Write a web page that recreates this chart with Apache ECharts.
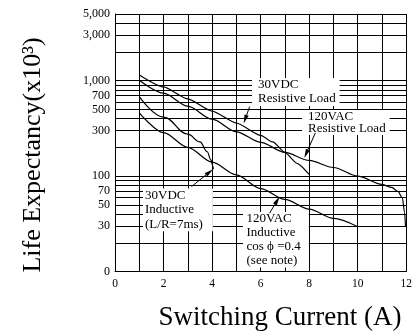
<!DOCTYPE html>
<html><head><meta charset="utf-8">
<script src="https://cdn.jsdelivr.net/npm/echarts@6/dist/echarts.min.js"></script>
<style>html,body{margin:0;padding:0;background:#fff}#c{width:415px;height:331px}</style>
</head><body><div id="c"></div>
<script>
// ---- data ----
const xTickValues = [0, 2, 4, 6, 8, 10, 12];
const yTickValues = [10, 30, 50, 70, 100, 300, 500, 700, 1000, 3000, 5000];
const yTickLabels = ['0', '30', '50', '70', '100', '300', '500', '700', '1,000', '3,000', '5,000'];
const yGridValues = [20, 30, 40, 50, 60, 70, 80, 90, 100, 200, 300, 400, 500, 600, 700, 800, 900, 1000, 2000, 3000, 4000];

const vdc30ResX = [1, 2, 3, 4, 5, 6, 6.5, 7, 7.5, 8];
const vdc30ResY = [1150, 860, 645, 480, 360, 267, 228, 177, 136, 104];
const vac120ResX = [1, 2, 3, 4, 5, 6, 7, 8, 9, 10, 11, 11.4, 11.66, 11.84, 11.93, 11.97];
const vac120ResY = [1010, 740, 540, 395, 291, 226, 177, 146, 123, 100, 82, 76, 69, 59, 42, 29.5];
const vdc30IndX = [1, 2, 3, 3.5, 3.8, 3.95, 4.03, 4.05];
const vdc30IndY = [680, 415, 275, 228, 180, 148, 128, 118];
const vac120IndX = [1, 2, 3, 4, 5, 6, 7, 8, 9, 10];
const vac120IndY = [460, 285, 200, 140, 103, 74, 57, 45, 36, 29.5];

const labelTexts = [
  '30VDC\nResistive Load',
  '120VAC\nResistive Load',
  '30VDC\nInductive\n(L/R=7ms)',
  '120VAC\nInductive\ncos \u03D5 =0.4\n(see note)'
];
const arrowTips = [[5.3, 355], [7.8, 155], [4.04, 118], [6.78, 61]];

// ---- chart ----
const FONT = '"Liberation Serif", "Times New Roman", serif';
const pairs = (xs, ys) => xs.map((x, i) => [x, ys[i]]);
const chart = echarts.init(document.getElementById('c'), null, {renderer: 'canvas'});

const gridLines = yGridValues.concat([10, 5000]).map(v => {
  const idx = yTickValues.indexOf(v);
  return {
    yAxis: v,
    label: idx >= 0 ? {show: true, formatter: yTickLabels[idx]} : {show: false}
  };
});

const lineSeries = (name, xs, ys, smooth) => ({
  name, type: 'line', data: pairs(xs, ys), showSymbol: false, symbol: 'none',
  smooth: smooth, smoothMonotone: 'x',
  lineStyle: {color: '#000', width: 1.2}, z: 5, silent: true
});

chart.setOption({
  animation: false,
  textStyle: {fontFamily: FONT},
  grid: {left: 115, right: 5, top: 14, bottom: 59.5},
  xAxis: {
    type: 'value', min: 0, max: 12, interval: 1,
    axisLine: {show: true, lineStyle: {color: '#000', width: 1}},
    axisTick: {show: false},
    splitLine: {show: true, lineStyle: {color: '#000', width: 1}},
    axisLabel: {
      color: '#000', fontSize: 11.5, fontFamily: FONT, margin: 6,
      formatter: v => xTickValues.indexOf(v) >= 0 ? String(v) : ''
    }
  },
  yAxis: {
    type: 'log', logBase: 10, min: 10, max: 5000,
    axisLine: {show: true, lineStyle: {color: '#000', width: 1}},
    axisTick: {show: false},
    axisLabel: {show: false},
    splitLine: {show: false}
  },
  series: [
    {
      type: 'line', data: [], silent: true,
      markLine: {
        silent: true, symbol: ['none', 'none'], animation: false,
        lineStyle: {color: '#000', width: 1, type: 'solid'},
        label: {position: 'start', color: '#000', fontSize: 12, fontFamily: FONT, distance: 5},
        emphasis: {disabled: true},
        data: gridLines
      }
    },
    lineSeries('30VDC Resistive Load', vdc30ResX, vdc30ResY, 0.2),
    lineSeries('120VAC Resistive Load', vac120ResX, vac120ResY, 0.3),
    lineSeries('30VDC Inductive', vdc30IndX, vdc30IndY, 0.4),
    lineSeries('120VAC Inductive', vac120IndX, vac120IndY, 0.3)
  ]
});

// annotations
const boxes = [
  {x: 252, y: 78, lh: 14, pad: [0, 4, 0, 6]},
  {x: 302, y: 110, lh: 12.5, pad: [0, 4, 0, 6]},
  {x: 143, y: 188.6, lh: 14.2, pad: [0, 10, 0, 2]},
  {x: 243, y: 212, lh: 13.9, pad: [0, 8, 0, 3.5]}
];
const tailOffsets = [[6, -17], [11, -25], [-21.6, 17.4], [-10, 16.6]];
const graphics = [];
labelTexts.forEach((t, i) => {
  const b = boxes[i];
  graphics.push({
    type: 'text', x: b.x, y: b.y, z: 20,
    style: {
      text: t, font: '13px ' + FONT, fill: '#000', lineHeight: b.lh,
      backgroundColor: '#fff', padding: b.pad,
      textAlign: 'left', textVerticalAlign: 'top'
    }
  });
});
arrowTips.forEach((tp, i) => {
  const tip = chart.convertToPixel({gridIndex: 0}, tp);
  const off = tailOffsets[i];
  const tail = [tip[0] + off[0], tip[1] + off[1]];
  const len = Math.hypot(off[0], off[1]);
  const ux = -off[0] / len, uy = -off[1] / len;
  const hl = 9, hw = 2.2;
  const base = [tip[0] - ux * hl, tip[1] - uy * hl];
  graphics.push({
    type: 'line', z: 21,
    shape: {x1: tail[0], y1: tail[1], x2: base[0], y2: base[1]},
    style: {stroke: '#000', lineWidth: 1}
  });
  graphics.push({
    type: 'polygon', z: 21,
    shape: {points: [tip, [base[0] - uy * hw, base[1] + ux * hw], [base[0] + uy * hw, base[1] - ux * hw]]},
    style: {fill: '#000'}
  });
});
graphics.push({
  type: 'text', x: 33, y: 155, rotation: Math.PI / 2, z: 20,
  style: {text: 'Life Expectancy(x10\u00B3)', font: '26px ' + FONT, fill: '#000',
    textAlign: 'center', textVerticalAlign: 'middle'}
});
graphics.push({
  type: 'text', x: 280, y: 318, z: 20,
  style: {text: 'Switching Current (A)', font: '27px ' + FONT, fill: '#000',
    textAlign: 'center', textVerticalAlign: 'middle'}
});
chart.setOption({graphic: graphics});
</script>
</body></html>
